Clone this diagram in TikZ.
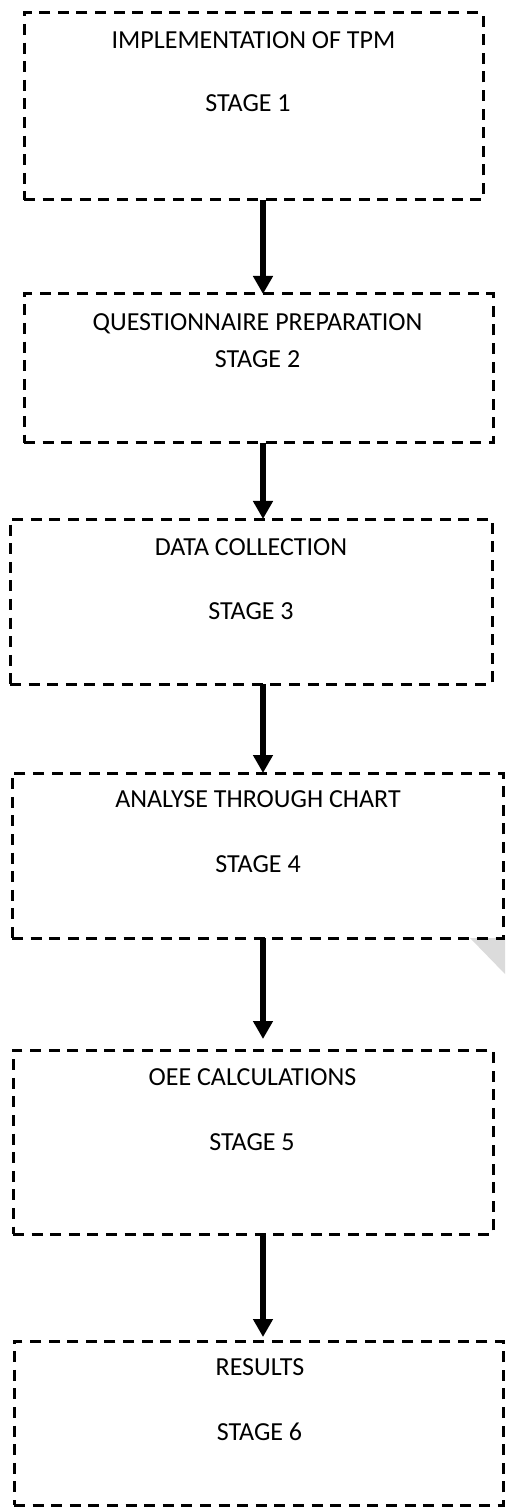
\documentclass[tikz,border=0pt]{standalone}
\usepackage{fontspec}
\setmainfont{Carlito}
\usepackage{tikz}
\usetikzlibrary{arrows.meta}

\begin{document}
\begin{tikzpicture}[x=0.5pt, y=-0.5pt,
    stagebox/.style={draw, line width=1.5pt, dash pattern=on 5.5pt off 3.8pt, inner sep=0pt, outer sep=0pt},
    stagetext/.style={anchor=base, inner sep=0pt, font=\fontsize{13}{15}\selectfont},
    flow/.style={line width=3pt, -{Triangle[width=9.5pt, length=9pt]}}]
    \useasboundingbox (0, 0) rectangle (505, 1507);

    \fill[black!14] (470, 938) -- (505, 938) -- (505, 974) -- cycle;

    \node[stagebox, minimum width=229.5pt, minimum height=93.5pt] (stage1) at (253.5, 106.5) {};
    \node[stagebox, minimum width=234.5pt, minimum height=74.5pt] (stage2) at (258.5, 368.5) {};
    \node[stagebox, minimum width=241pt, minimum height=82.5pt] (stage3) at (251, 601.5) {};
    \node[stagebox, minimum width=245.75pt, minimum height=82.5pt] (stage4) at (257.75, 855.5) {};
    \node[stagebox, minimum width=240pt, minimum height=92pt] (stage5) at (253, 1142) {};
    \node[stagebox, minimum width=244.75pt, minimum height=82pt] (stage6) at (258.75, 1423) {};

    \node[stagetext] (title1) at (253.5, 48.5) {IMPLEMENTATION OF TPM};
    \node[stagetext] (num1) at (248, 111.5) {STAGE 1};
    \node[stagetext] (title2) at (257.5, 330.5) {QUESTIONNAIRE PREPARATION};
    \node[stagetext] (num2) at (257.5, 367.5) {STAGE 2};
    \node[stagetext] (title3) at (251, 555.5) {DATA COLLECTION};
    \node[stagetext] (num3) at (251, 619.5) {STAGE 3};
    \node[stagetext] (title4) at (258, 807.5) {ANALYSE THROUGH CHART};
    \node[stagetext] (num4) at (258, 872.5) {STAGE 4};
    \node[stagetext] (title5) at (252.5, 1085.5) {OEE CALCULATIONS};
    \node[stagetext] (num5) at (252, 1150.5) {STAGE 5};
    \node[stagetext] (title6) at (260, 1375.5) {RESULTS};
    \node[stagetext] (num6) at (259.5, 1440.5) {STAGE 6};

    \coordinate (spine) at (263, 0);
    \draw[flow] (stage1.south -| spine) -- (stage2.north -| spine);
    \draw[flow] (stage2.south -| spine) -- (stage3.north -| spine);
    \draw[flow] (stage3.south -| spine) -- (stage4.north -| spine);
    \draw[flow] (stage4.south -| spine) -- ([yshift=5.5pt]stage5.north -| spine);
    \draw[flow] (stage5.south -| spine) -- ([yshift=2pt]stage6.north -| spine);
\end{tikzpicture}
\end{document}
